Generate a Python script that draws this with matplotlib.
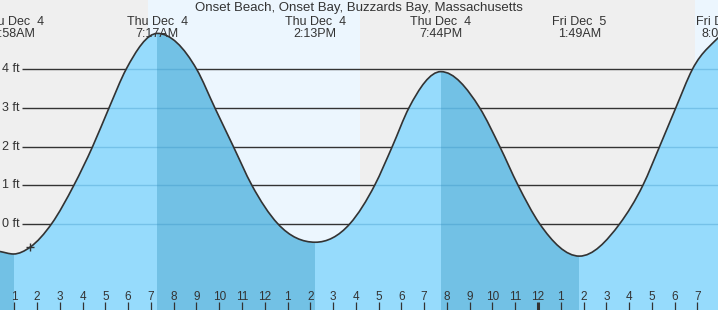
import numpy as np
import matplotlib
matplotlib.use("Agg")
import matplotlib.pyplot as plt
import matplotlib.patches as patches
import matplotlib.transforms as mtransforms
from matplotlib.path import Path

plt.rcParams['font.family'] = ['Liberation Sans', 'DejaVu Sans']

# water level (hours after midnight Thu Dec 4, feet)
tide_hours = [0.37, 0.967, 1.69, 2.64, 3.62, 4.44, 5.16, 5.91, 7.283,
              9.01, 9.81, 10.62, 11.43, 12.57, 14.217,
              15.74, 16.83, 17.6, 18.33, 19.733,
              21.44, 22.32, 23.12, 24.07, 25.817,
              27.59, 28.61, 29.34, 30.05, 30.78, 32.13]
tide_feet = [-0.72, -0.785, -0.61, 0.0, 1.0, 2.0, 3.0, 4.0, 4.93,
             4.0, 3.0, 2.0, 1.0, 0.0, -0.48,
             0.0, 1.0, 2.0, 3.0, 3.94,
             3.0, 2.0, 1.0, 0.0, -0.84,
             0.0, 1.0, 2.0, 3.0, 4.0, 4.96]

# high / low tide annotations
event_hours = [0.967, 7.283, 14.217, 19.733, 25.817, 32.13]
event_days = ["Thu Dec  4", "Thu Dec  4", "Thu Dec  4", "Thu Dec  4", "Fri Dec  5", "Fri Dec  5"]
event_times = ["0:58AM", "7:17AM", "2:13PM", "7:44PM", "1:49AM", "8:08AM"]

# ebbing tide (high -> low) shaded darker
ebb_start = [0.0, 7.283, 19.733]
ebb_end = [0.967, 14.217, 25.817]

# daylight (sunrise, sunset)
sunrise = [6.87, 30.9]
sunset = [16.17, 40.0]

hour_ticks = list(range(1, 32))
hour_labels = ["1", "2", "3", "4", "5", "6", "7", "8", "9", "10", "11", "12",
               "1", "2", "3", "4", "5", "6", "7", "8", "9", "10", "11", "12",
               "1", "2", "3", "4", "5", "6", "7"]
grid_feet = [0, 1, 2, 3, 4]
now_hour, now_feet = 1.69, -0.61

title = "Onset Beach, Onset Bay, Buzzards Bay, Massachusetts"

GREY_BG = '#efefef'
DAY_BG = '#ecf6fe'
WATER = '#96dbfc'
WATER_DARK = '#72c1e5'
INK = '#333333'

fig = plt.figure(figsize=(7.18, 3.10), dpi=100)
ax = fig.add_axes([0, 0, 1, 1])
ax.set_axis_off()
x0 = 1 - 14.3 / 22.77
ax.set_xlim(x0, x0 + 718 / 22.77)
ax.set_ylim(-(310 - 223.7) / 38.6, 223.7 / 38.6)
ybot = -3.0

# background: night grey, daylight pale blue
ax.axvspan(-5, 45, color=GREY_BG, zorder=0, lw=0)
for a, b in zip(sunrise, sunset):
    ax.axvspan(a, b, color=DAY_BG, zorder=0.5, lw=0)

# smooth curve through the readings (cubic hermite -> bezier)
t = np.array(tide_hours)
h = np.array(tide_feet)
d = np.diff(t)
s = np.diff(h) / d
m = np.zeros_like(h)
m[1:-1] = (d[1:] * s[:-1] + d[:-1] * s[1:]) / (d[:-1] + d[1:])
m[0], m[-1] = s[0], s[-1]
for i in range(1, len(h) - 1):
    if s[i - 1] * s[i] <= 0:
        m[i] = 0.0
verts = [(t[0], h[0])]
codes = [Path.MOVETO]
for i in range(len(d)):
    verts += [(t[i] + d[i] / 3, h[i] + m[i] * d[i] / 3),
              (t[i + 1] - d[i] / 3, h[i + 1] - m[i + 1] * d[i] / 3),
              (t[i + 1], h[i + 1])]
    codes += [Path.CURVE4] * 3
curve = Path(verts, codes)
fill = Path(verts + [(t[-1], ybot), (t[0], ybot), (t[0], h[0])],
            codes + [Path.LINETO, Path.LINETO, Path.CLOSEPOLY])

# gridlines behind the water
gx0 = x0 + 21.7 / 22.77
ax.hlines(grid_feet, gx0, 40, colors=INK, lw=1.0, zorder=1)
for ft in grid_feet:
    ax.text(x0 + 20 / 22.77, ft, f"{ft} ft", ha='right', va='center', fontsize=9, color=INK)

water = patches.PathPatch(fill, facecolor=WATER, edgecolor='none', zorder=2)
ax.add_patch(water)
for a, b in zip(ebb_start, ebb_end):
    span = ax.axvspan(a, b, color=WATER_DARK, zorder=3, lw=0)
    span.set_clip_path(water)
inner = ax.hlines(grid_feet, gx0, 40, colors='#2b86bd', lw=1.0, alpha=0.3, zorder=4)
inner.set_clip_path(water)
ax.add_patch(patches.PathPatch(curve, facecolor='none', edgecolor=INK, lw=1.2, zorder=5))

ax.plot(now_hour, now_feet, marker='+', color=INK, markersize=6, mew=1.0, zorder=6)

# hour ticks along the bottom, midnight in bold
tick_top = -(302.3 - 223.7) / 38.6
for hr, lab in zip(hour_ticks, hour_labels):
    ax.vlines(hr, ybot, tick_top, colors=INK, lw=2.2 if hr == 24 else 0.9, zorder=7)
    ax.text(hr, -(296.8 - 223.7) / 38.6, lab, ha='center', va='center', fontsize=8.5, color=INK, zorder=7)

# title and tide labels
trans = mtransforms.blended_transform_factory(ax.transData, ax.transAxes)
ax.text(0.5, 1 - 8.5 / 310, title, transform=ax.transAxes, ha='center', va='center', fontsize=9.5, color=INK)
for hr, day, tm in zip(event_hours, event_days, event_times):
    ax.text(hr, 1 - 21.8 / 310, day, transform=trans, ha='center', va='center', fontsize=9, color=INK, zorder=8)
    ax.text(hr, 1 - 33.6 / 310, tm, transform=trans, ha='center', va='center', fontsize=9, color=INK, zorder=8)

fig.savefig("out.png", dpi=100)
